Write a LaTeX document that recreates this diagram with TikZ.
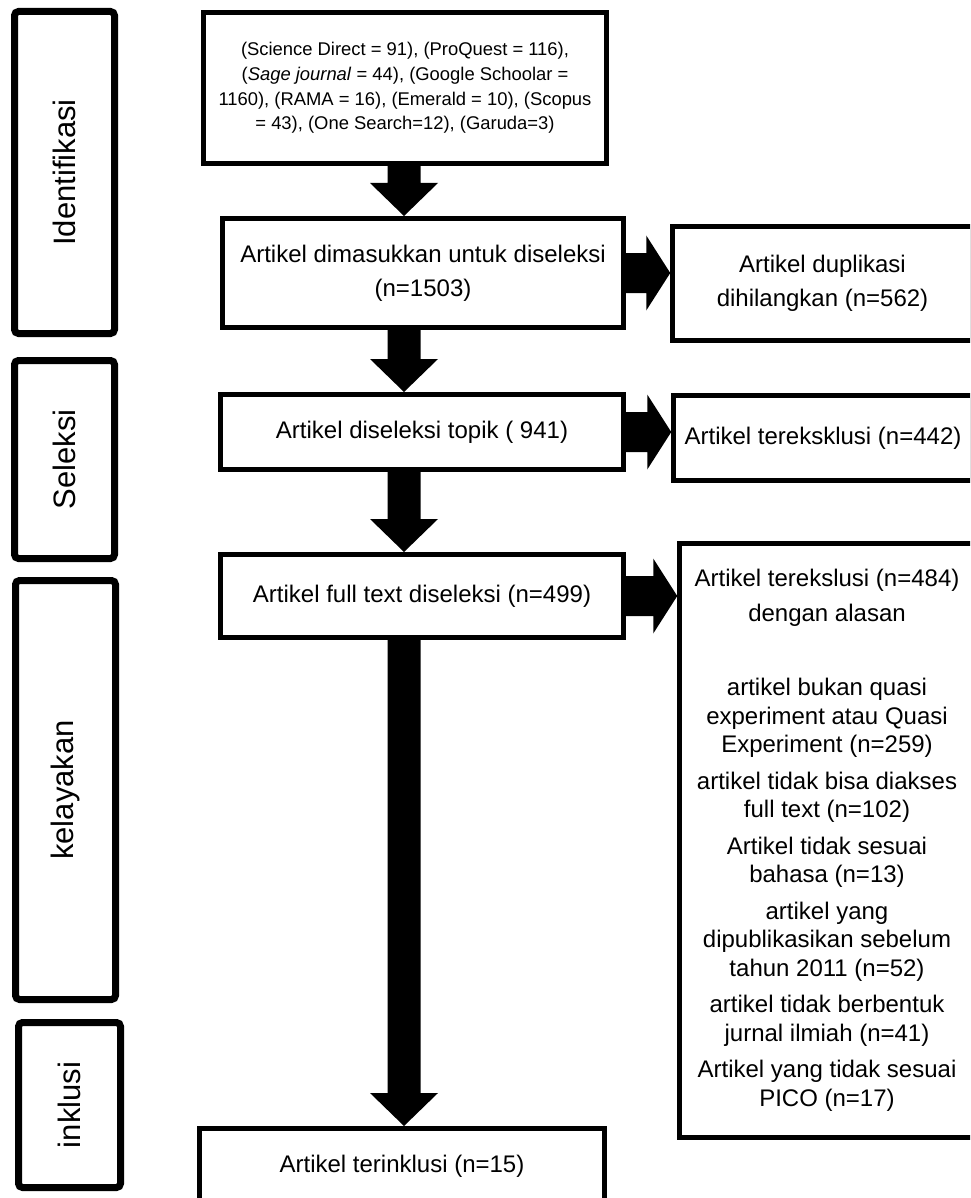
\documentclass[tikz,border=0pt]{standalone}
\usepackage{fontspec}
\setmainfont{Liberation Sans}
\usetikzlibrary{calc}

% block arrows between named points
\newcommand{\arrowdown}[2]{%
  \fill let \p1=(#1), \p2=(#2) in
    (\x1-16.5pt,\y1) -- (\x1+16.5pt,\y1) -- (\x1+16.5pt,\y2+33pt)
    -- (\x1+34pt,\y2+33pt) -- (\x1,\y2) -- (\x1-34pt,\y2+33pt)
    -- (\x1-16.5pt,\y2+33pt) -- cycle;}
\newcommand{\arrowright}[2]{%
  \fill let \p1=(#1), \p2=(#2) in
    (\x1,\y1+20pt) -- (\x2-24pt,\y1+20pt) -- (\x2-24pt,\y1+37.5pt)
    -- (\x2,\y1) -- (\x2-24pt,\y1-37.5pt) -- (\x2-24pt,\y1-20pt)
    -- (\x1,\y1-20pt) -- cycle;}

\begin{document}
\begin{tikzpicture}[
    x=1pt, y=-1pt,
    phasebox/.style={draw, line width=7pt, rounded corners=4pt, rotate=90,
      inner sep=0pt, font=\fontsize{31}{36}\selectfont},
    stepbox/.style={draw, line width=5pt, align=center, inner sep=0pt,
      font=\fontsize{24}{34}\selectfont},
    sidebox/.style={draw, line width=4.5pt, align=center, inner sep=0pt,
      font=\fontsize{24}{34}\selectfont},
    ]
    \useasboundingbox (0,0) rectangle (970,1198);
    \clip (0,0) rectangle (970,1198);

    %Phases
    \node[phasebox, minimum width=322pt, minimum height=100pt] (identifikasi) at (64.5,172.5) {Identifikasi};
    \node[phasebox, minimum width=198pt, minimum height=100pt] (seleksi)      at (64.5,459.5) {Seleksi};
    \node[phasebox, minimum width=419pt, minimum height=100pt] (kelayakan)    at (65.5,790)   {kelayakan};
    \node[phasebox, minimum width=165pt, minimum height=102pt] (inklusi)      at (69.5,1105)  {inklusi};

    %Main column
    \node[stepbox, minimum width=403pt, minimum height=151pt,
      font=\fontsize{18.4}{24.8}\selectfont] (search) at (405,88)
      {(Science Direct = 91), (ProQuest = 116),\\
       (\textit{Sage journal} = 44), (Google Schoolar =\\
       1160), (RAMA = 16), (Emerald = 10), (Scopus\\
       = 43), (One Search=12), (Garuda=3)};
    \node[stepbox, minimum width=401pt, minimum height=109pt] (screen)   at (423,273)
      {Artikel dimasukkan untuk diseleksi\\(n=1503)};
    \node[stepbox, minimum width=403pt, minimum height=75pt]  (topic)    at (422,432)
      {Artikel diseleksi topik ( 941)};
    \node[stepbox, minimum width=403pt, minimum height=83pt]  (fulltext) at (422,596)
      {Artikel full text diseleksi (n=499)};
    \node[stepbox, minimum width=405pt, minimum height=75pt]  (included) at (402,1166)
      {Artikel terinklusi (n=15)};

    %Side column
    \node[sidebox, minimum width=300pt, minimum height=114pt] (duplicate) at (822.5,283.5)
      {Artikel duplikasi\\dihilangkan (n=562)};
    \node[sidebox, minimum width=299pt, minimum height=85pt]  (excltopic) at (823,438)
      {Artikel tereksklusi (n=442)};
    \node[sidebox, minimum width=295pt, minimum height=594pt,
      font=\fontsize{24}{28.5}\selectfont] (exclfull) at (827,840.5)
      {Artikel terekslusi (n=484)\\[6.5pt]
       dengan alasan\\[45.5pt]
       artikel bukan quasi\\ experiment atau Quasi\\ Experiment (n=259)\\[8pt]
       artikel tidak bisa diakses\\ full text (n=102)\\[8pt]
       Artikel tidak sesuai\\ bahasa (n=13)\\[8pt]
       artikel yang\\ dipublikasikan sebelum\\ tahun 2011 (n=52)\\[8pt]
       artikel tidak berbentuk\\ jurnal ilmiah (n=41)\\[8pt]
       Artikel yang tidak sesuai\\ PICO (n=17)};

    %Arrows
    \coordinate (axis) at (404,0);
    \arrowdown{search.south -| axis}{screen.north -| axis}
    \arrowdown{screen.south -| axis}{topic.north -| axis}
    \arrowdown{topic.south -| axis}{fulltext.north -| axis}
    \arrowdown{fulltext.south -| axis}{included.north -| axis}
    \arrowright{screen.east}{duplicate.west |- screen.east}
    \arrowright{topic.east}{excltopic.west |- topic.east}
    \arrowright{fulltext.east}{exclfull.west |- fulltext.east}
\end{tikzpicture}
\end{document}
